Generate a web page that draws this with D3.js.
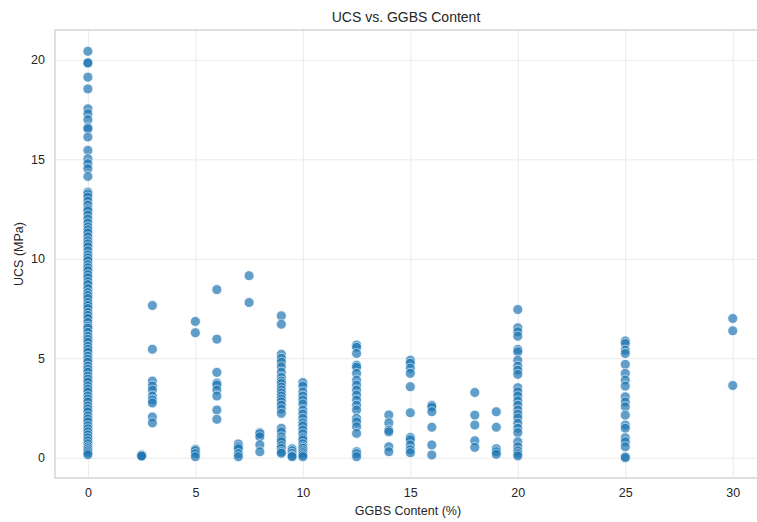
<!DOCTYPE html>
<html>
<head>
<meta charset="utf-8">
<script src="https://cdn.jsdelivr.net/npm/d3@7"></script>
<style>
  body { margin: 0; background: #fff; }
  text { font-family: "Liberation Sans", Arial, sans-serif; fill: #262626; }
</style>
</head>
<body>
<div id="chart"></div>
<script>
// GGBS content (%) per group, and UCS (MPa) readings
var ggbs = [0, 2.5, 3, 5, 6, 7, 7.5, 8, 9, 9.5, 10, 12.5, 14, 15, 16, 18, 19, 20, 25, 30];

var ucs_0 = [20.43, 19.83, 19.85, 19.13, 18.54, 17.54, 17.29, 16.99, 16.6, 16.53, 16.12, 15.45, 15.03, 14.78, 14.53, 14.14,
  13.35, 13.25, 13.1, 12.9, 12.7, 12.5, 12.4, 12.2, 12.0, 11.8, 11.6, 11.45, 11.3, 11.1, 10.9, 10.75, 10.6, 10.4, 10.2,
  10.05, 9.9, 9.7, 9.55, 9.4, 9.2, 9.05, 8.85, 8.7, 8.5, 8.3, 8.15, 8.0, 7.8, 7.65, 7.5, 7.3, 7.15, 7.0, 6.8, 6.6, 6.5,
  6.3, 6.1, 5.95, 5.8, 5.6, 5.45, 5.3, 5.1, 4.95, 4.8, 4.6, 4.45, 4.3, 4.1, 3.95, 3.8, 3.6, 3.45, 3.3, 3.1, 2.95, 2.8,
  2.6, 2.45, 2.3, 2.1, 1.95, 1.8, 1.6, 1.45, 1.3, 1.15, 1.0, 0.85, 0.7, 0.55, 0.45, 0.35, 0.25, 0.15];
var ucs_2_5 = [0.15, 0.12, 0.1, 0.08];
var ucs_3 = [7.65, 5.45, 3.85, 3.6, 3.4, 3.1, 2.9, 2.75, 2.05, 1.75];
var ucs_5 = [6.85, 6.28, 0.42, 0.35, 0.2, 0.05];
var ucs_6 = [8.45, 5.96, 4.29, 3.75, 3.65, 3.4, 3.1, 2.4, 1.93];
var ucs_7 = [0.69, 0.55, 0.45, 0.2, 0.05];
var ucs_7_5 = [9.15, 7.8];
var ucs_8 = [1.26, 1.2, 1.05, 0.65, 0.3];
var ucs_9 = [7.13, 6.71, 5.2, 5.0, 4.8, 4.57, 4.3, 4.04, 3.85, 3.73, 3.55, 3.4, 3.25, 3.1, 2.95, 2.81, 2.64, 2.45, 2.23,
  1.48, 1.3, 1.05, 0.9, 0.8, 0.6, 0.47, 0.3, 0.22];
var ucs_9_5 = [0.45, 0.35, 0.22, 0.1, 0.05];
var ucs_10 = [3.78, 3.6, 3.31, 3.1, 2.9, 2.7, 2.4, 2.2, 1.98, 1.75, 1.6, 1.39, 1.2, 1.0, 0.89, 0.7, 0.55, 0.47, 0.35,
  0.25, 0.14, 0.05];
var ucs_12_5 = [5.66, 5.55, 5.24, 4.65, 4.55, 4.24, 3.9, 3.65, 3.4, 3.15, 2.9, 2.64, 2.4, 1.98, 1.8, 1.56, 1.22, 0.3,
  0.2, 0.05];
var ucs_14 = [2.15, 1.75, 1.39, 1.3, 0.55, 0.3];
var ucs_15 = [4.9, 4.75, 4.5, 4.24, 3.57, 2.26, 1.02, 0.9, 0.64, 0.4, 0.25];
var ucs_16 = [2.64, 2.55, 2.31, 1.53, 0.64, 0.14];
var ucs_18 = [3.28, 2.14, 1.64, 0.85, 0.52];
var ucs_19 = [2.31, 1.53, 0.45, 0.3, 0.17];
var ucs_20 = [7.45, 6.53, 6.33, 6.11, 5.44, 5.32, 4.9, 4.6, 4.4, 4.19, 3.52, 3.31, 3.1, 2.86, 2.64, 2.4, 2.19, 2.0,
  1.73, 1.48, 1.26, 0.8, 0.55, 0.34, 0.2, 0.09];
var ucs_25 = [5.87, 5.74, 5.41, 5.24, 4.69, 4.24, 3.9, 3.6, 3.06, 2.8, 2.56, 2.14, 1.64, 1.48, 1.0, 0.8, 0.55, 0.05, 0.0];
var ucs_30 = [7.0, 6.38, 3.63];

var ucs_groups = [ucs_0, ucs_2_5, ucs_3, ucs_5, ucs_6, ucs_7, ucs_7_5, ucs_8, ucs_9, ucs_9_5, ucs_10, ucs_12_5,
  ucs_14, ucs_15, ucs_16, ucs_18, ucs_19, ucs_20, ucs_25, ucs_30];

var x_ticks = [0, 5, 10, 15, 20, 25, 30];
var y_ticks = [0, 5, 10, 15, 20];

var points = [];
ggbs.forEach(function(g, i) {
  ucs_groups[i].forEach(function(v) {
    points.push({ ggbs: g, ucs: v });
  });
});

var chart_width = 757, chart_height = 522;
var plot_left = 55, plot_right = 765, plot_top = 30, plot_bottom = 478;

var x = d3.scaleLinear().domain([-1.53, 31.5]).range([plot_left, plot_right]);
var y = d3.scaleLinear().domain([-1.02, 21.5]).range([plot_bottom, plot_top]);

var svg = d3.select("#chart").append("svg")
  .attr("width", chart_width)
  .attr("height", chart_height);

// grid
svg.append("g")
  .attr("transform", "translate(0," + plot_bottom + ")")
  .call(d3.axisBottom(x).tickValues(x_ticks).tickSize(-(plot_bottom - plot_top)).tickFormat(""))
  .call(function(g) { g.select(".domain").remove(); })
  .selectAll("line").attr("stroke", "#ebebeb");

svg.append("g")
  .attr("transform", "translate(" + plot_left + ",0)")
  .call(d3.axisLeft(y).tickValues(y_ticks).tickSize(-(plot_right - plot_left)).tickFormat(""))
  .call(function(g) { g.select(".domain").remove(); })
  .selectAll("line").attr("stroke", "#ebebeb");

// frame
svg.append("rect")
  .attr("x", plot_left)
  .attr("y", plot_top)
  .attr("width", plot_right - plot_left)
  .attr("height", plot_bottom - plot_top)
  .attr("fill", "none")
  .attr("stroke", "#cccccc")
  .attr("stroke-width", 1.2);

// tick labels
var xAxis = svg.append("g")
  .attr("transform", "translate(0," + plot_bottom + ")")
  .call(d3.axisBottom(x).tickValues(x_ticks).tickSize(0).tickPadding(10));
xAxis.select(".domain").remove();
xAxis.selectAll("text").attr("font-size", "12.5px").attr("fill", "#333333")
  .style("font-family", "'Liberation Sans', Arial, sans-serif");

var yAxis = svg.append("g")
  .attr("transform", "translate(" + plot_left + ",0)")
  .call(d3.axisLeft(y).tickValues(y_ticks).tickSize(0).tickPadding(10));
yAxis.select(".domain").remove();
yAxis.selectAll("text").attr("font-size", "12.5px").attr("fill", "#333333")
  .style("font-family", "'Liberation Sans', Arial, sans-serif");

// points
svg.append("g")
  .selectAll("circle")
  .data(points)
  .enter()
  .append("circle")
  .attr("cx", function(d) { return x(d.ggbs); })
  .attr("cy", function(d) { return y(d.ucs); })
  .attr("r", 5)
  .attr("fill", "#1f77b4")
  .attr("stroke", "#ffffff")
  .attr("stroke-width", 0.8)
  .attr("opacity", 0.7);

// titles
svg.append("text")
  .attr("x", 406)
  .attr("y", 22)
  .attr("text-anchor", "middle")
  .attr("font-size", "14px")
  .text("UCS vs. GGBS Content");

svg.append("text")
  .attr("x", 408)
  .attr("y", 515)
  .attr("text-anchor", "middle")
  .attr("font-size", "12.5px")
  .text("GGBS Content (%)");

svg.append("text")
  .attr("transform", "translate(23," + ((plot_top + plot_bottom) / 2) + ") rotate(-90)")
  .attr("text-anchor", "middle")
  .attr("font-size", "12.5px")
  .text("UCS (MPa)");
</script>
</body>
</html>
